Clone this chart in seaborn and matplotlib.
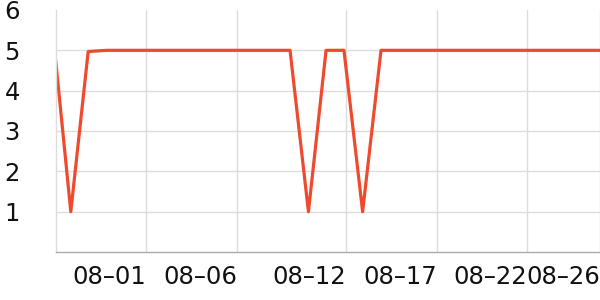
import matplotlib
matplotlib.use("Agg")
import matplotlib.pyplot as plt
import seaborn as sns
import pandas as pd

# ---- data ----
timestamps = [
    "2024-07-27 00:00", "2024-07-27 20:00", "2024-07-28 19:00", "2024-07-29 19:00",
    "2024-07-30 19:00", "2024-07-31 19:00", "2024-08-01 19:00", "2024-08-02 19:00",
    "2024-08-03 19:00", "2024-08-04 19:00", "2024-08-05 19:00", "2024-08-06 19:00",
    "2024-08-07 19:00", "2024-08-08 22:00", "2024-08-09 22:20", "2024-08-10 21:40",
    "2024-08-11 21:20", "2024-08-12 22:00", "2024-08-13 22:20", "2024-08-14 22:00",
    "2024-08-15 22:00", "2024-08-16 22:00", "2024-08-17 22:00", "2024-08-18 22:00",
    "2024-08-19 22:00", "2024-08-20 22:00", "2024-08-21 22:00", "2024-08-22 22:00",
    "2024-08-23 22:00", "2024-08-24 22:00", "2024-08-26 00:00",
]
values = [
    4.75, 1, 4.97, 5, 5, 5, 5, 5,
    5, 5, 5, 5, 5, 5, 1, 5,
    5, 1, 5, 5, 5, 5, 5, 5,
    5, 5, 5, 5, 5, 5, 5,
]
tick_dates = ["2024-08-01", "2024-08-06", "2024-08-12", "2024-08-17", "2024-08-22", "2024-08-26"]
tick_labels = ["08–01", "08–06", "08–12", "08–17", "08–22", "08–26"]
y_ticks = [1, 2, 3, 4, 5, 6]

df = pd.DataFrame({"time": pd.to_datetime(timestamps), "value": values})

sns.set_style("white")
plt.rcParams["font.family"] = ["DejaVu Sans"]

fig = plt.figure(figsize=(6, 3), dpi=100)
ax = fig.add_axes([0.0928, 0.16, 0.9072, 0.8067])

sns.lineplot(data=df, x="time", y="value", ax=ax, color="#ef4a2e", linewidth=2.3)

ax.set_xlim(pd.Timestamp("2024-07-27"), pd.Timestamp("2024-08-26"))
ax.set_ylim(0, 6)
ax.set_xticks(pd.to_datetime(tick_dates))
ax.set_xticklabels(tick_labels, ha="right")
ax.set_yticks(y_ticks)
ax.set_yticklabels([str(v) for v in y_ticks])
ax.set_xlabel("")
ax.set_ylabel("")

ax.grid(True, color="#dddddd", linewidth=1)
ax.set_axisbelow(True)
ax.yaxis.get_gridlines()[-1].set_visible(False)

for s in ["top", "right"]:
    ax.spines[s].set_visible(False)
ax.spines["left"].set_color("#dddddd")
ax.spines["left"].set_linewidth(1)
ax.spines["bottom"].set_color("#aaaaaa")
ax.spines["bottom"].set_linewidth(1)

ax.tick_params(axis="y", length=2, color="#dddddd", pad=23.7, labelsize=17.5, labelcolor="#111111")
ax.tick_params(axis="x", length=3, color="#aaaaaa", pad=6, labelsize=17.5, labelcolor="#111111")

fig.savefig("out.png", dpi=100)
